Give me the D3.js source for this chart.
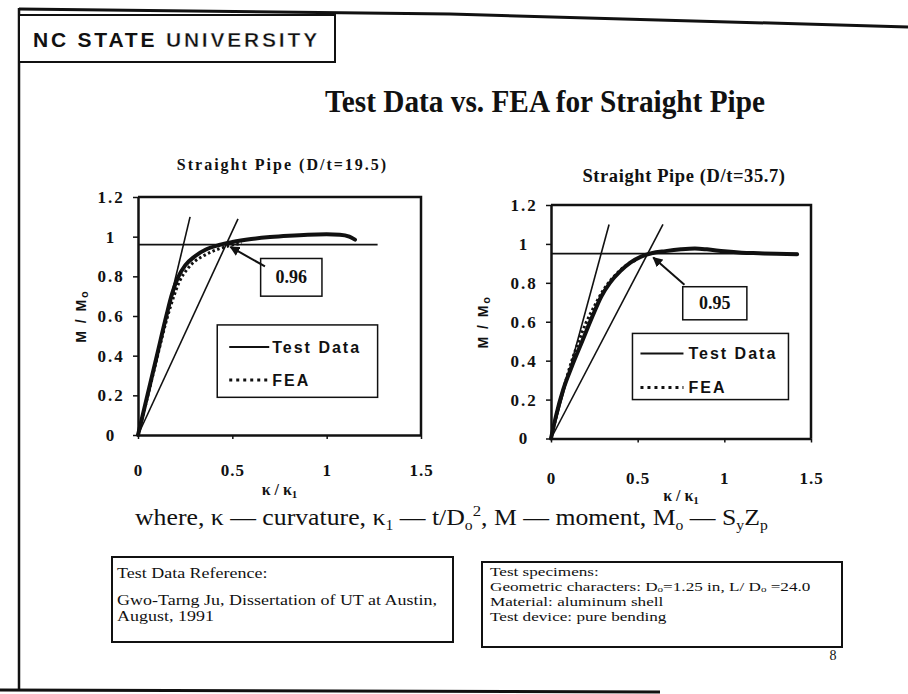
<!DOCTYPE html>
<html>
<head>
<meta charset="utf-8">
<script src="https://cdn.jsdelivr.net/npm/d3@7"></script>
<style>
  html, body { margin: 0; padding: 0; background: #fff; }
  svg { display: block; }
</style>
</head>
<body>
<div id="app"></div>
<script>
// 数据：坐标轴刻度
const xTicks = [0, 0.5, 1, 1.5];
const yTicks = [0, 0.2, 0.4, 0.6, 0.8, 1, 1.2];

// 左图 D/t=19.5
const testLeft = [[0,0],[0.05,0.2],[0.1,0.4],[0.15,0.6],[0.18,0.71],[0.21,0.79],[0.25,0.855],[0.3,0.9],[0.36,0.935],[0.43,0.958],[0.5,0.973],[0.6,0.988],[0.7,0.998],[0.8,1.005],[0.9,1.01],[1.0,1.012],[1.07,1.01],[1.12,1.0],[1.15,0.985]];
const feaLeft = [[0,0],[0.05,0.19],[0.1,0.385],[0.15,0.575],[0.19,0.7],[0.22,0.775],[0.26,0.835],[0.3,0.875],[0.35,0.905],[0.4,0.928],[0.45,0.945],[0.5,0.958],[0.55,0.967]];
const elasticLeft = [[0,0],[0.276,1.1]];
const secantLeft = [[0,0],[0.53,1.09]];
const limitLeft = [[0,0.96],[1.27,0.96]];
const arrowLeft = [[0.673,0.85],[0.49,0.948]];

// 右图 D/t=35.7
const testRight = [[0,0],[0.03,0.12],[0.07,0.25],[0.12,0.37],[0.18,0.5],[0.24,0.63],[0.29,0.73],[0.34,0.8],[0.4,0.86],[0.46,0.905],[0.52,0.935],[0.58,0.952],[0.66,0.963],[0.75,0.972],[0.83,0.976],[0.9,0.972],[1.0,0.962],[1.1,0.955],[1.2,0.952],[1.3,0.949],[1.42,0.947]];
const feaRight = [[0,0],[0.04,0.15],[0.08,0.28],[0.12,0.4],[0.16,0.5],[0.2,0.59],[0.25,0.68],[0.3,0.76],[0.35,0.82],[0.4,0.865],[0.45,0.9],[0.5,0.92]];
const elasticRight = [[0,0],[0.335,1.1]];
const secantRight = [[0,0],[0.646,1.1]];
const limitRight = [[0,0.95],[1.425,0.95]];
const arrowRight = [[0.77,0.79],[0.59,0.93]];

const limitLabels = ['0.96', '0.95'];
const legendLabels = ['Test Data', 'FEA'];
const subtitles = ['Straight Pipe (D/t=19.5)', 'Straight Pipe (D/t=35.7)'];

const SERIF = "'Liberation Serif', 'Times New Roman', serif";
const SANS = "'Liberation Sans', Arial, sans-serif";

const width = 908, height = 694;

const svg = d3.select('#app').append('svg')
  .attr('width', width)
  .attr('height', height)
  .style('background', '#fff');

// 箭头
svg.append('defs').append('marker')
  .attr('id', 'arrow')
  .attr('viewBox', '0 0 10 10')
  .attr('refX', 9).attr('refY', 5)
  .attr('markerWidth', 5).attr('markerHeight', 5)
  .attr('orient', 'auto')
  .append('path')
  .attr('d', 'M0,0L10,5L0,10z')
  .attr('fill', '#111');

// 页面边框
svg.append('polyline')
  .attr('points', '19,9 450,14 908,27')
  .attr('fill', 'none').attr('stroke', '#111').attr('stroke-width', 3);
svg.append('line')
  .attr('x1', 19).attr('y1', 8).attr('x2', 19).attr('y2', 691)
  .attr('stroke', '#111').attr('stroke-width', 2.5);
svg.append('line')
  .attr('x1', 0).attr('y1', 690).attr('x2', 660).attr('y2', 692)
  .attr('stroke', '#111').attr('stroke-width', 3);

// 校名
svg.append('rect')
  .attr('x', 19).attr('y', 15).attr('width', 316).attr('height', 47)
  .attr('fill', '#fff').attr('stroke', '#111').attr('stroke-width', 2);
const nc = svg.append('text')
  .attr('x', 33).attr('y', 47)
  .attr('font-family', SANS).attr('font-size', 21)
  .attr('letter-spacing', 2.8).attr('fill', '#111');
nc.append('tspan').attr('font-weight', 'bold').text('NC STATE ');
nc.append('tspan').attr('font-weight', 'bold').attr('stroke', '#fff').attr('stroke-width', 0.4).text('UNIVERSITY');

// 标题
svg.append('text')
  .attr('x', 545).attr('y', 112)
  .attr('text-anchor', 'middle')
  .attr('font-family', SERIF).attr('font-weight', 'bold').attr('font-size', 31)
  .attr('textLength', 440).attr('lengthAdjust', 'spacingAndGlyphs')
  .attr('fill', '#111')
  .text('Test Data vs. FEA for Straight Pipe');

// 面板布局
const panels = [
  {
    xr: [138, 421], yr: [435, 197], test: testLeft, fea: feaLeft,
    elastic: elasticLeft, secant: secantLeft, limit: limitLeft, arrow: arrowLeft,
    label: limitLabels[0], title: subtitles[0], titleY: 170, titleSize: 16, titleSpacing: 2,
    annBox: [[0.65, 0.89], [0.975, 0.70]], legBox: [[0.42, 0.555], [1.27, 0.19]],
    legRows: [22, 55], legLine: [12, 52], legText: 55,
    xLabelY: 41, xTitleY: 60, yTitleX: -52
  },
  {
    xr: [551, 811], yr: [438.5, 205], test: testRight, fea: feaRight,
    elastic: elasticRight, secant: secantRight, limit: limitRight, arrow: arrowRight,
    label: limitLabels[1], title: subtitles[1], titleY: 182, titleSize: 18.5, titleSpacing: 0.6,
    annBox: [[0.76, 0.78], [1.13, 0.61]], legBox: [[0.47, 0.54], [1.37, 0.20]],
    legRows: [20, 54], legLine: [8, 51], legText: 56,
    xLabelY: 45, xTitleY: 62, yTitleX: -63
  }
];

panels.forEach(drawPanel);

function drawPanel(p) {
  const x = d3.scaleLinear().domain([0, 1.5]).range(p.xr);
  const y = d3.scaleLinear().domain([0, 1.2]).range(p.yr);
  const g = svg.append('g');
  const line = d3.line().x(d => x(d[0])).y(d => y(d[1]));
  const smooth = d3.line().x(d => x(d[0])).y(d => y(d[1])).curve(d3.curveMonotoneX);

  // 小标题
  g.append('text')
    .attr('x', (p.xr[0] + p.xr[1]) / 2 + 3).attr('y', p.titleY)
    .attr('text-anchor', 'middle')
    .attr('font-family', SERIF).attr('font-weight', 'bold').attr('font-size', p.titleSize)
    .attr('letter-spacing', p.titleSpacing)
    .attr('fill', '#111')
    .text(p.title);

  // 绘图区边框（上、右）
  g.append('path')
    .attr('d', `M${x(0)},${y(1.2)}H${x(1.5)}V${y(0)}`)
    .attr('fill', 'none').attr('stroke', '#111').attr('stroke-width', 2.5);

  // Y 轴
  const ya = g.append('g')
    .attr('transform', `translate(${x(0)},0)`)
    .call(d3.axisLeft(y).tickValues(yTicks).tickSize(5).tickSizeOuter(0).tickFormat(d3.format('')));
  ya.select('.domain').attr('stroke', '#111').attr('stroke-width', 2.5);
  ya.selectAll('.tick line').attr('stroke', '#111').attr('stroke-width', 1.5);
  ya.selectAll('.tick text')
    .attr('x', -27).attr('text-anchor', 'middle')
    .attr('font-family', SERIF).attr('font-weight', 'bold').attr('font-size', 17)
    .attr('letter-spacing', 2)
    .attr('fill', '#111');

  // X 轴
  const xa = g.append('g')
    .attr('transform', `translate(0,${y(0)})`)
    .call(d3.axisBottom(x).tickValues(xTicks).tickSize(4).tickSizeOuter(0).tickFormat(d3.format('')));
  xa.select('.domain').attr('stroke', '#111').attr('stroke-width', 2.5);
  xa.selectAll('.tick line').attr('stroke', '#111').attr('stroke-width', 1.5);
  xa.selectAll('.tick text')
    .attr('y', p.xLabelY).attr('dy', 0)
    .attr('font-family', SERIF).attr('font-weight', 'bold').attr('font-size', 17)
    .attr('letter-spacing', 1)
    .attr('fill', '#111');

  // 坐标轴标题
  const xt = g.append('text')
    .attr('x', (p.xr[0] + p.xr[1]) / 2).attr('y', y(0) + p.xTitleY)
    .attr('text-anchor', 'middle')
    .attr('font-family', SERIF).attr('font-weight', 'bold').attr('font-size', 16)
    .attr('fill', '#111');
  xt.append('tspan').text('\u03ba / \u03ba');
  xt.append('tspan').attr('font-size', 11).attr('dy', 3).text('1');

  const yt = g.append('text')
    .attr('transform', `translate(${x(0) + p.yTitleX},${(p.yr[0] + p.yr[1]) / 2}) rotate(-90)`)
    .attr('text-anchor', 'middle')
    .attr('font-family', SANS).attr('font-weight', 'bold').attr('font-size', 14)
    .attr('letter-spacing', 2)
    .attr('fill', '#111');
  yt.append('tspan').text('M / M');
  yt.append('tspan').attr('font-size', 11).attr('dy', 2).text('o');

  // 参考线
  [p.elastic, p.secant, p.limit].forEach(d => {
    g.append('path').attr('d', line(d))
      .attr('fill', 'none').attr('stroke', '#111').attr('stroke-width', 1.6);
  });

  // 试验数据
  g.append('path').attr('d', smooth(p.test))
    .attr('fill', 'none').attr('stroke', '#111').attr('stroke-width', 4)
    .attr('stroke-linejoin', 'round').attr('stroke-linecap', 'round');

  // FEA
  g.append('path').attr('d', smooth(p.fea))
    .attr('fill', 'none').attr('stroke', '#111').attr('stroke-width', 3)
    .attr('stroke-dasharray', '2.5,2.5');

  // 标注框
  const [a0, a1] = p.annBox;
  g.append('rect')
    .attr('x', x(a0[0])).attr('y', y(a0[1]))
    .attr('width', x(a1[0]) - x(a0[0])).attr('height', y(a1[1]) - y(a0[1]))
    .attr('fill', '#fff').attr('stroke', '#111').attr('stroke-width', 1.5);
  g.append('text')
    .attr('x', (x(a0[0]) + x(a1[0])) / 2).attr('y', (y(a0[1]) + y(a1[1])) / 2 + 6)
    .attr('text-anchor', 'middle')
    .attr('font-family', SERIF).attr('font-weight', 'bold').attr('font-size', 18)
    .attr('fill', '#111')
    .text(p.label);
  g.append('path').attr('d', line(p.arrow))
    .attr('fill', 'none').attr('stroke', '#111').attr('stroke-width', 2)
    .attr('marker-end', 'url(#arrow)');

  // 图例
  const [l0, l1] = p.legBox;
  const lx = x(l0[0]), ly = y(l0[1]);
  g.append('rect')
    .attr('x', lx).attr('y', ly)
    .attr('width', x(l1[0]) - lx).attr('height', y(l1[1]) - ly)
    .attr('fill', '#fff').attr('stroke', '#111').attr('stroke-width', 1.5);
  legendLabels.forEach((name, i) => {
    const ry = ly + p.legRows[i];
    g.append('line')
      .attr('x1', lx + p.legLine[0]).attr('x2', lx + p.legLine[1])
      .attr('y1', ry).attr('y2', ry)
      .attr('stroke', '#111')
      .attr('stroke-width', i === 0 ? 2 : 3)
      .attr('stroke-dasharray', i === 0 ? null : '3,4');
    g.append('text')
      .attr('x', lx + p.legText).attr('y', ry + 6)
      .attr('font-family', SANS).attr('font-weight', 'bold').attr('font-size', 16)
      .attr('letter-spacing', 2)
      .attr('fill', '#111')
      .text(name);
  });
}

// 说明文字（扫描字体较宽，横向拉伸）
const where = svg.append('text')
  .attr('transform', 'translate(135,525) scale(1.12,1)')
  .attr('font-family', SERIF).attr('font-size', 23)
  .attr('fill', '#111');
where.append('tspan').text('where,  \u03ba \u2014 curvature, \u03ba');
where.append('tspan').attr('font-size', 14).attr('dy', 5).text('1');
where.append('tspan').attr('dy', -5).text(' \u2014 t/D');
where.append('tspan').attr('font-size', 14).attr('dy', 5).text('o');
where.append('tspan').attr('font-size', 15).attr('dy', -14).text('2');
where.append('tspan').attr('dy', 9).text(',  M \u2014 moment,  M');
where.append('tspan').attr('font-size', 14).attr('dy', 5).text('o');
where.append('tspan').attr('dy', -5).text(' \u2014 S');
where.append('tspan').attr('font-size', 14).attr('dy', 5).text('y');
where.append('tspan').attr('dy', -5).text('Z');
where.append('tspan').attr('font-size', 14).attr('dy', 5).text('p');

// 参考文献框
const refLines = ['Test Data Reference:', 'Gwo-Tarng Ju, Dissertation of UT at Austin,', 'August, 1991'];
const refY = [578, 605, 621];
svg.append('rect')
  .attr('x', 112).attr('y', 557).attr('width', 341).attr('height', 85)
  .attr('fill', '#fff').attr('stroke', '#111').attr('stroke-width', 2);
const refText = svg.append('text')
  .attr('transform', 'translate(117,0) scale(1.24,1)')
  .attr('font-family', SERIF).attr('font-size', 14.5).attr('fill', '#111');
refLines.forEach((t, i) => {
  refText.append('tspan').attr('x', 0).attr('y', refY[i]).text(t);
});

// 试件说明框
svg.append('rect')
  .attr('x', 482).attr('y', 562).attr('width', 360).attr('height', 85)
  .attr('fill', '#fff').attr('stroke', '#111').attr('stroke-width', 2);
const spec = svg.append('text')
  .attr('transform', 'translate(490,0) scale(1.3,1)')
  .attr('font-family', SERIF).attr('font-size', 13.2).attr('fill', '#111');
spec.append('tspan').attr('x', 0).attr('y', 576.5).text('Test specimens:');
spec.append('tspan').attr('x', 0).attr('y', 591).text('Geometric characters: D');
spec.append('tspan').attr('font-size', 8.5).attr('dy', 1.5).text('o');
spec.append('tspan').attr('dy', -1.5).text('=1.25 in, L/ D');
spec.append('tspan').attr('font-size', 8.5).attr('dy', 1.5).text('o');
spec.append('tspan').attr('dy', -1.5).text(' =24.0');
spec.append('tspan').attr('x', 0).attr('y', 606.5).text('Material: aluminum shell');
spec.append('tspan').attr('x', 0).attr('y', 621).text('Test device: pure bending');

// 页码
svg.append('text')
  .attr('x', 833).attr('y', 660)
  .attr('text-anchor', 'middle')
  .attr('font-family', SERIF).attr('font-size', 14)
  .attr('fill', '#111')
  .text('8');
</script>
</body>
</html>
